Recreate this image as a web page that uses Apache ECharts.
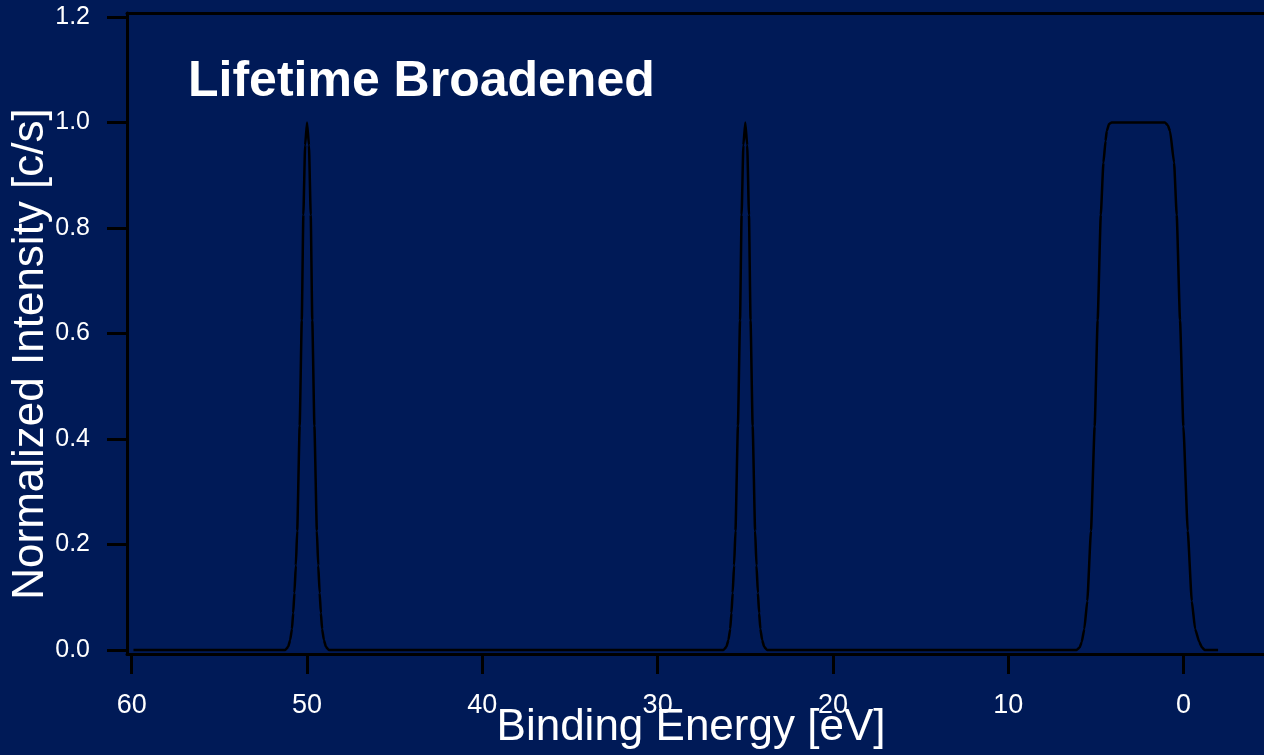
<!DOCTYPE html>
<html>
<head>
<meta charset="utf-8">
<title>Lifetime Broadened</title>
<script src="https://cdn.jsdelivr.net/npm/echarts@6/dist/echarts.min.js"></script>
<style>
  html, body { margin: 0; padding: 0; background: #001a57; }
  #chart { width: 1264px; height: 755px; }
</style>
</head>
<body>
<div id="chart"></div>
<script>
// Binding energy [eV] of each sample point, high to low
const bindingEnergy = [
  59.9, 51.25, 51.08, 50.96, 50.86, 50.79, 50.72, 50.64, 50.56, 50.42, 50.30, 50.21, 50.11, 50.00,
  49.89, 49.79, 49.70, 49.58, 49.44, 49.36, 49.28, 49.21, 49.14, 49.04, 48.92, 48.75,
  26.25, 26.08, 25.96, 25.86, 25.79, 25.72, 25.64, 25.56, 25.42, 25.30, 25.21, 25.11, 25.00,
  24.89, 24.79, 24.70, 24.58, 24.44, 24.36, 24.28, 24.21, 24.14, 24.04, 23.92, 23.75,
  6.1, 5.92, 5.81, 5.66, 5.49, 5.28, 5.07, 4.90, 4.72, 4.57, 4.45, 4.38, 4.25, 4.10,
  1.06, 0.90, 0.77, 0.54, 0.39, 0.20, 0.01, -0.24, -0.47, -0.66, -0.90, -1.05, -1.2, -1.97
];
// Normalized intensity at each of those energies
const intensity = [
  0, 0, 0.006, 0.019, 0.04, 0.07, 0.108, 0.16, 0.226, 0.425, 0.625, 0.825, 0.957, 1.0,
  0.957, 0.825, 0.625, 0.425, 0.226, 0.16, 0.108, 0.07, 0.04, 0.019, 0.006, 0,
  0, 0.006, 0.019, 0.04, 0.07, 0.108, 0.16, 0.226, 0.425, 0.625, 0.825, 0.957, 1.0,
  0.957, 0.825, 0.625, 0.425, 0.226, 0.16, 0.108, 0.07, 0.04, 0.019, 0.006, 0,
  0, 0.005, 0.015, 0.04, 0.093, 0.226, 0.424, 0.625, 0.825, 0.924, 0.965, 0.984, 0.997, 1.0,
  1.0, 0.995, 0.984, 0.924, 0.825, 0.625, 0.424, 0.226, 0.093, 0.04, 0.015, 0.005, 0, 0
];
// Tick positions
const xTicks = [60, 50, 40, 30, 20, 10, 0];
const yTicks = [0, 0.2, 0.4, 0.6, 0.8, 1.0, 1.2];

const FONT = '"Liberation Sans", Arial, Helvetica, sans-serif';
const INK = '#000000';
const TEXT = '#ffffff';

const points = bindingEnergy.map((e, i) => [e, intensity[i]]);

const chart = echarts.init(document.getElementById('chart'), null, { renderer: 'canvas' });

chart.setOption({
  backgroundColor: '#001a57',
  animation: false,
  grid: { left: 127, right: 0, top: 13, bottom: 101, containLabel: false },
  xAxis: [
    {
      type: 'value',
      inverse: true,
      min: -4.59,
      max: 60.27,
      position: 'bottom',
      axisLine: { show: true, onZero: false, lineStyle: { color: INK, width: 3 } },
      axisTick: { show: true, inside: false, length: 20, customValues: xTicks, lineStyle: { color: INK, width: 3 } },
      axisLabel: {
        show: true, customValues: xTicks, margin: 38, color: TEXT,
        fontSize: 27, fontFamily: FONT,
        formatter: v => String(Math.round(v))
      },
      splitLine: { show: false }
    },
    {
      type: 'value',
      inverse: true,
      min: -4.59,
      max: 60.27,
      position: 'top',
      axisLine: { show: true, onZero: false, lineStyle: { color: INK, width: 3 } },
      axisTick: { show: false },
      axisLabel: { show: false },
      splitLine: { show: false }
    }
  ],
  yAxis: {
    type: 'value',
    min: -0.0076,
    max: 1.2076,
    position: 'left',
    axisLine: { show: true, onZero: false, lineStyle: { color: INK, width: 3 } },
    axisTick: { show: true, inside: false, length: 20, customValues: yTicks, lineStyle: { color: INK, width: 3 } },
    axisLabel: {
      show: true, customValues: yTicks, margin: 37, color: TEXT,
      fontSize: 25, fontFamily: FONT,
      formatter: v => v.toFixed(1)
    },
    splitLine: { show: false }
  },
  series: [{
    type: 'line',
    xAxisIndex: 0,
    data: points,
    showSymbol: false,
    symbol: 'none',
    smooth: 0.15,
    smoothMonotone: 'x',
    lineStyle: { color: INK, width: 2.5 },
    z: 3
  }],
  graphic: [
    {
      type: 'text',
      x: 188, y: 82,
      style: {
        text: 'Lifetime Broadened',
        fill: TEXT,
        font: 'bold 50px ' + FONT,
        textAlign: 'left',
        textVerticalAlign: 'middle'
      }
    },
    {
      type: 'text',
      x: 691, y: 728,
      style: {
        text: 'Binding Energy [eV]',
        fill: TEXT,
        font: '44px ' + FONT,
        textAlign: 'center',
        textVerticalAlign: 'middle'
      }
    },
    {
      type: 'text',
      x: 31, y: 354,
      rotation: Math.PI / 2,
      style: {
        text: 'Normalized Intensity [c/s]',
        fill: TEXT,
        font: '44px ' + FONT,
        textAlign: 'center',
        textVerticalAlign: 'middle'
      }
    }
  ]
});
</script>
</body>
</html>
